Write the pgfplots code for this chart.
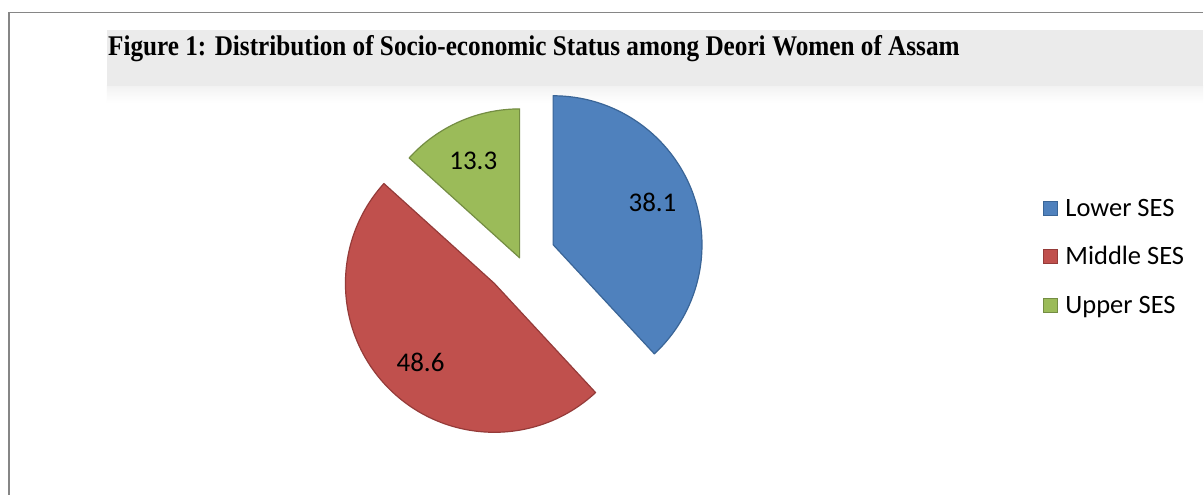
\documentclass[border=0pt]{standalone}
\usepackage{pgfplots}
\pgfplotsset{compat=1.18}
\usepackage{pgfplotstable}
\usepackage{graphicx}
\usepackage{fontspec}
\setmainfont{Liberation Serif}
\newfontfamily\carlito{Carlito}

\definecolor{sesblue}{HTML}{4F81BD}
\definecolor{sesblueD}{HTML}{3A6597}
\definecolor{sesred}{HTML}{C0504D}
\definecolor{sesredD}{HTML}{953B39}
\definecolor{sesgreen}{HTML}{9BBB59}
\definecolor{sesgreenD}{HTML}{748D43}
\definecolor{framegray}{HTML}{868686}
\definecolor{bandgray}{HTML}{EBEBEB}

% value = share (%), explode = offset of slice from the centre
\pgfplotstableread{
value explode
38.1 36
48.6 36
13.3 0
}\piedata

\tikzset{
  lab/.style={font=\carlito\fontsize{27}{31}\selectfont, anchor=center, inner sep=0pt},
  leg/.style={font=\carlito\fontsize{26.5}{31}\selectfont, anchor=base west, inner sep=0pt},
}

% #1 start angle, #2 end angle, #3 explode, #4 fill, #5 draw, #6 label text
\newcommand\pieslice[6]{%
  \pgfmathsetmacro\midang{(#1+#2)/2}%
  \pgfmathsetmacro\cx{520+#3*cos(\midang)}%
  \pgfmathsetmacro\cy{237+#3*sin(\midang)}%
  \pgfmathsetmacro\lx{\cx+108*cos(\midang+1.5)}%
  \pgfmathsetmacro\ly{\cy+108*sin(\midang+1.5)}%
  \edef\tmp{%
    \noexpand\filldraw[fill=#4, draw=#5, line width=1.2pt, line join=round]
      (axis cs:\cx,\cy) -- ++(#1:149pt) arc[start angle=#1, end angle=#2, radius=149pt] -- cycle;
    \noexpand\node[lab] at (axis cs:\lx,\ly) {#6};
  }\tmp
}

\begin{document}
\begin{tikzpicture}
\pgfplotstablegetelem{0}{value}\of\piedata \let\vA\pgfplotsretval
\pgfplotstablegetelem{1}{value}\of\piedata \let\vB\pgfplotsretval
\pgfplotstablegetelem{2}{value}\of\piedata \let\vC\pgfplotsretval
\pgfplotstablegetelem{0}{explode}\of\piedata \let\xA\pgfplotsretval
\pgfplotstablegetelem{1}{explode}\of\piedata \let\xB\pgfplotsretval
\pgfplotstablegetelem{2}{explode}\of\piedata \let\xC\pgfplotsretval
\pgfmathsetmacro\sA{90}
\pgfmathsetmacro\eA{\sA-3.6*\vA}
\pgfmathsetmacro\eB{\eA-3.6*\vB}
\pgfmathsetmacro\eC{\eB-3.6*\vC}
\begin{axis}[
  width=1204pt, height=495pt, scale only axis,
  xmin=0, xmax=1204, ymin=0, ymax=495,
  hide axis, clip=false,
]
% background and frame
\fill[white] (axis cs:0,0) rectangle (axis cs:1204,495);
\draw[framegray, line width=1.8pt] (axis cs:9,0) -- (axis cs:9,482.5) -- (axis cs:1204,482.5);
% title band
\shade[top color=black!5, bottom color=white] (axis cs:107,392) rectangle (axis cs:1204,409);
\fill[bandgray] (axis cs:107,409) rectangle (axis cs:1204,465);
\node[anchor=base west, inner sep=0pt, font=\bfseries\fontsize{28.5}{32}\selectfont]
  at (axis cs:108,439) {\scalebox{0.885}[1]{Figure 1: Distribution of Socio-economic Status among Deori Women of Assam}};
% slices
\pieslice{\sA}{\eA}{\xA}{sesblue}{sesblueD}{\vA}
\pieslice{\eA}{\eB}{\xB}{sesred}{sesredD}{\vB}
\pieslice{\eB}{\eC}{\xC}{sesgreen}{sesgreenD}{\vC}
% legend
\filldraw[fill=sesblue, draw=sesblueD, line width=1.2pt] (axis cs:1044,279) rectangle (axis cs:1058,293);
\filldraw[fill=sesred, draw=sesredD, line width=1.2pt] (axis cs:1044,231) rectangle (axis cs:1058,245);
\filldraw[fill=sesgreen, draw=sesgreenD, line width=1.2pt] (axis cs:1044,182) rectangle (axis cs:1058,196);
\node[leg] at (axis cs:1066,278) {Lower SES};
\node[leg] at (axis cs:1066,230) {Middle SES};
\node[leg] at (axis cs:1066,181) {Upper SES};
\end{axis}
\end{tikzpicture}
\end{document}
